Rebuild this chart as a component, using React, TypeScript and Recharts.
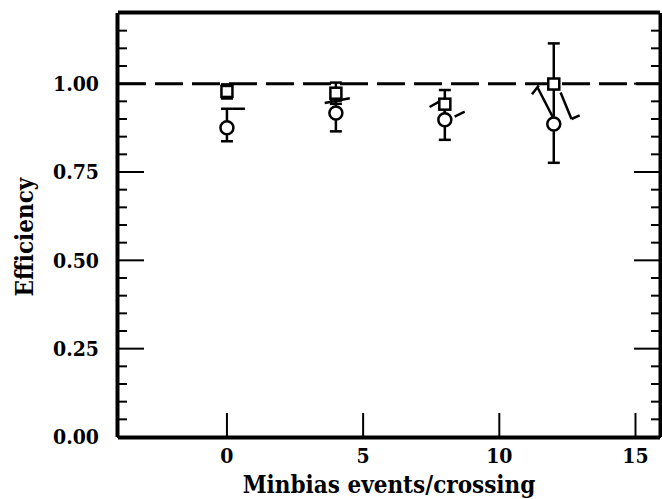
import {
  ComposedChart,
  Scatter,
  XAxis,
  YAxis,
  ErrorBar,
  ReferenceLine,
  Label,
} from "recharts";

// minbias events per crossing
const crossings = [0, 4, 8, 12];

// squares
const squareEff = [0.978, 0.973, 0.942, 0.999];
const squareErr = [0.02, 0.03, 0.04, 0.115];

// circles (asymmetric errors: down, up)
const circleEff = [0.875, 0.917, 0.898, 0.886];
const circleErrDown = [0.038, 0.052, 0.057, 0.11];
const circleErrUp = [0.054, 0.035, 0.035, 0];

// skewed pieces of the circle error bars, as they appear in the scan
const skewFrom = [
  [11.4, 0.99],
  [12.25, 0.975],
  [12.65, 0.9],
  [11.2, 0.97],
  [3.59, 0.945],
  [7.44, 0.934],
  [8.36, 0.907],
  [0.22, 0.929],
];
const skewTo = [
  [12.0, 0.9],
  [12.65, 0.9],
  [12.95, 0.91],
  [11.45, 0.995],
  [4.51, 0.959],
  [7.81, 0.95],
  [8.73, 0.921],
  [0.66, 0.929],
];

const xMajor = [0, 5, 10, 15];
const xMinor = [-3, -2, -1, 0, 1, 2, 3, 4, 5, 6, 7, 8, 9, 10, 11, 12, 13, 14, 15];
const yMajor = [0, 0.25, 0.5, 0.75, 1];
const yMinor = [
  0.05, 0.1, 0.15, 0.2, 0.3, 0.35, 0.4, 0.45, 0.55, 0.6, 0.65, 0.7, 0.8, 0.85,
  0.9, 0.95, 1.05, 1.1, 1.15,
];

const squares = crossings.map((x, i) => ({ x, y: squareEff[i], err: squareErr[i] }));
const circles = crossings.map((x, i) => ({
  x,
  y: circleEff[i],
  err: [circleErrDown[i], circleErrUp[i]],
}));

const family = "'DejaVu Serif Condensed', 'DejaVu Serif', serif";
const tickFont = { fontFamily: family, fontWeight: 700, fontSize: 21, fill: "#000" };
const labelFont = { fontFamily: family, fontWeight: 700, fontSize: 24, fill: "#000" };
const line = { stroke: "#000", strokeWidth: 3 };
const tickLine = { stroke: "#000", strokeWidth: 2 };
const X_DOMAIN = [-4, 15.9];
const Y_DOMAIN = [0, 1.2];
const noLabel = () => <g />;

const SquareMark = (p: any) => (
  <rect x={p.cx - 5.5} y={p.cy - 5.5} width={11} height={11} fill="#fff" stroke="#000" strokeWidth={2.5} />
);
const CircleMark = (p: any) => (
  <circle cx={p.cx} cy={p.cy} r={6.5} fill="#fff" stroke="#000" strokeWidth={2.5} />
);

export default function App() {
  return (
    <div style={{ position: "absolute", left: 0, top: 0, background: "#fff" }}>
      <ComposedChart width={662} height={499} margin={{ top: 11, right: 0, bottom: 0, left: 0 }}>
        {/* major ticks + labels */}
        <XAxis xAxisId="x" type="number" dataKey="x" domain={X_DOMAIN} ticks={xMajor} tick={tickFont}
          interval={0} tickSize={-25} tickMargin={35} height={61} axisLine={line} tickLine={tickLine}
          allowDataOverflow>
          <Label value="Minbias events/crossing" position="insideBottom" offset={6} style={labelFont} />
        </XAxis>
        <XAxis xAxisId="t" orientation="top" type="number" domain={X_DOMAIN} ticks={xMajor} tick={noLabel}
          interval={0} tickSize={-27} height={1} axisLine={line} tickLine={tickLine} allowDataOverflow />
        <YAxis yAxisId="y" type="number" domain={Y_DOMAIN} ticks={yMajor} tick={tickFont}
          tickFormatter={(v: number) => v.toFixed(2)} interval={0} tickSize={-27} tickMargin={45}
          width={117} axisLine={line} tickLine={tickLine} allowDataOverflow>
          <Label
            content={(props: any) => {
              const vb = props.viewBox;
              const cx = vb.x + 24;
              const cy = vb.y + vb.height / 2 + 12;
              return (
                <text x={cx} y={cy} transform={`rotate(-90 ${cx} ${cy})`} textAnchor="middle"
                  dominantBaseline="central" style={labelFont}>
                  Efficiency
                </text>
              );
            }}
          />
        </YAxis>
        <YAxis yAxisId="r" orientation="right" type="number" domain={Y_DOMAIN} ticks={yMajor} tick={noLabel}
          interval={0} tickSize={-27} width={1} axisLine={line} tickLine={tickLine} allowDataOverflow />

        {/* minor ticks */}
        <XAxis xAxisId="a1" type="number" domain={X_DOMAIN} ticks={xMinor} tick={noLabel}
          interval={0} tickSize={-8} height={1} axisLine={line} tickLine={tickLine} allowDataOverflow />
        <XAxis xAxisId="a2" orientation="top" type="number" domain={X_DOMAIN} ticks={xMinor} tick={noLabel}
          interval={0} tickSize={-8} height={1} axisLine={line} tickLine={tickLine} allowDataOverflow />
        <YAxis yAxisId="a3" type="number" domain={Y_DOMAIN} ticks={yMinor} tick={noLabel}
          interval={0} tickSize={-9} width={1} axisLine={line} tickLine={tickLine} allowDataOverflow />
        <YAxis yAxisId="a4" orientation="right" type="number" domain={Y_DOMAIN} ticks={yMinor} tick={noLabel}
          interval={0} tickSize={-9} width={1} axisLine={line} tickLine={tickLine} allowDataOverflow />

        <ReferenceLine xAxisId="x" yAxisId="y" y={1} stroke="#000" strokeWidth={3} strokeDasharray="28 9" />

        {skewFrom.map((a, i) => (
          <ReferenceLine
            key={i}
            xAxisId="x"
            yAxisId="y"
            segment={[
              { x: a[0], y: a[1] },
              { x: skewTo[i][0], y: skewTo[i][1] },
            ]}
            stroke="#000"
            strokeWidth={2.5}
            ifOverflow="visible"
          />
        ))}

        <Scatter xAxisId="x" yAxisId="y" data={squares} dataKey="y" shape={SquareMark} isAnimationActive={false}>
          <ErrorBar dataKey="err" direction="y" width={6} stroke="#000" strokeWidth={2.5} />
        </Scatter>
        <Scatter xAxisId="x" yAxisId="y" data={circles} dataKey="y" shape={CircleMark} isAnimationActive={false}>
          <ErrorBar dataKey="err" direction="y" width={6} stroke="#000" strokeWidth={2.5} />
        </Scatter>
      </ComposedChart>
    </div>
  );
}
